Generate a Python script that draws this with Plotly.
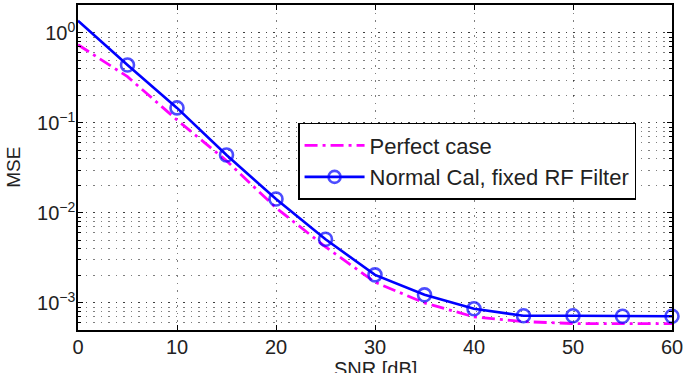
import plotly.graph_objects as go

snr = [0, 5, 10, 15, 20, 25, 30, 35, 40, 45, 50, 55, 60]
mse_perfect = [0.74, 0.327, 0.108, 0.038, 0.0114, 0.0042, 0.0017, 0.0010, 0.00070, 0.00062, 0.00059, 0.00059, 0.00059]
mse_normal = [1.37, 0.44, 0.147, 0.044, 0.0143, 0.0051, 0.00205, 0.00123, 0.00086, 0.00072, 0.00072, 0.00071, 0.00071]
y_tickvals = [1e-3, 1e-2, 1e-1, 1]
y_ticktext = ["10<sup>−3</sup>", "10<sup>−2</sup>", "10<sup>−1</sup>", "10<sup>0</sup>"]
x_tickvals = [0, 10, 20, 30, 40, 50, 60]
x_title = "SNR [dB]"
y_title = "MSE"

FONT = "Liberation Sans, Arial, Helvetica, sans-serif"

marker_sizes = [0] + [13] * (len(snr) - 1)

fig = go.Figure()
fig.add_trace(go.Scatter(
    x=snr, y=mse_perfect, mode="lines", name="Perfect case",
    line=dict(color="#FF00FF", width=2.8, dash="13px,5px,3px,5px"),
))
fig.add_trace(go.Scatter(
    x=snr, y=mse_normal, mode="lines+markers", name="Normal Cal, fixed RF Filter",
    line=dict(color="#0000FF", width=2.6),
    marker=dict(symbol="circle-open", size=marker_sizes, color="#0000FF",
                line=dict(width=2.6, color="#0000FF")),
    cliponaxis=False,
))

grid_color = "rgba(0,0,0,0.5)"
grid_dash = "1.5px,6px"
fig.update_layout(
    width=683, height=373,
    margin=dict(l=78, r=11, t=5, b=43, autoexpand=False),
    paper_bgcolor="white", plot_bgcolor="white",
    font=dict(family=FONT, size=20, color="#222"),
    showlegend=True,
    legend=dict(
        x=0.9395, y=0.637, xanchor="right", yanchor="top",
        bgcolor="white", bordercolor="black", borderwidth=1.5,
        font=dict(family=FONT, size=22, color="#222"),
        itemwidth=60, tracegroupgap=0,
    ),
    xaxis=dict(
        range=[0, 60], tickvals=x_tickvals, automargin=False,
        ticklabeloverflow="allow", ticklabelstandoff=-2,
        showline=True, linecolor="black", linewidth=1.5, mirror="ticks",
        ticks="inside", ticklen=5, tickcolor="black",
        showgrid=True, gridcolor=grid_color, griddash=grid_dash, gridwidth=1,
        zeroline=False,
    ),
    yaxis=dict(
        type="log", range=[-3.301, 0.311], automargin=False,
        tickvals=y_tickvals, ticktext=y_ticktext,
        ticklabeloverflow="allow", ticklabelstandoff=-3,
        showline=True, linecolor="black", linewidth=1.5, mirror="ticks",
        ticks="inside", ticklen=5, tickcolor="black",
        showgrid=True, gridcolor=grid_color, griddash=grid_dash, gridwidth=1,
        minor=dict(dtick="D1", ticks="inside", ticklen=3, tickcolor="black",
                   showgrid=True, gridcolor=grid_color, griddash=grid_dash, gridwidth=1),
        zeroline=False,
    ),
    annotations=[
        dict(text=x_title, xref="paper", yref="paper", x=0.5, y=-0.12,
             xanchor="center", yanchor="middle", showarrow=False,
             font=dict(family=FONT, size=20, color="#222")),
        dict(text=y_title, xref="paper", yref="paper", x=-0.109, y=0.5,
             xanchor="center", yanchor="middle", showarrow=False, textangle=-90,
             font=dict(family=FONT, size=19, color="#222")),
    ],
)

fig.write_html("out.html")
